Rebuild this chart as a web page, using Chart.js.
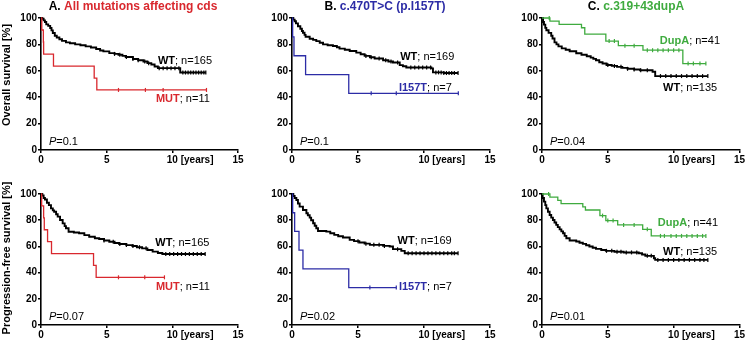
<!DOCTYPE html>
<html>
<head>
<meta charset="utf-8">
<script src="https://cdn.jsdelivr.net/npm/chart.js@4/dist/chart.umd.min.js"></script>
<style>
  body { margin: 0; background: #fff; }
  .panel { position: absolute; }
</style>
</head>
<body>
<div class="panel" style="left:0;top:0;width:250px;height:170px"><canvas id="osA"></canvas></div>
<div class="panel" style="left:250px;top:0;width:250px;height:170px"><canvas id="osB"></canvas></div>
<div class="panel" style="left:500px;top:0;width:246px;height:170px"><canvas id="osC"></canvas></div>
<div class="panel" style="left:0;top:170px;width:250px;height:173px"><canvas id="pfsA"></canvas></div>
<div class="panel" style="left:250px;top:170px;width:250px;height:173px"><canvas id="pfsB"></canvas></div>
<div class="panel" style="left:500px;top:170px;width:246px;height:173px"><canvas id="pfsC"></canvas></div>
<script>
// [years, survival %] - survival drops to the value at that time
const osA_wt = [[0,100],[0.1,99.4],[0.2,98.2],[0.3,97],[0.4,95.2],[0.55,94],[0.7,92.4],[0.8,90.6],[0.9,88.6],[1.05,86.5],[1.2,85.2],[1.4,83.9],[1.6,82.7],[1.9,81.5],[2.2,80.9],[2.6,80],[3.0,79.3],[3.4,78.5],[3.8,77.6],[4.2,76.5],[4.5,75.4],[4.75,74.7],[5.2,73.4],[5.6,72.8],[5.9,72.2],[6.2,71.3],[6.45,70.4],[7.0,68.9],[7.4,68],[7.8,67.1],[8.1,65.8],[8.4,64.8],[8.65,63.3],[8.9,62],[10.6,58.7],[12.55,58.7]];
const osA_mut = [[0,100],[0.06,90.9],[0.18,81.8],[0.2,72.7],[0.95,63.6],[4.05,54.5],[4.25,45.5],[12.6,45.5]];
const osB_wt = [[0,100],[0.1,98.8],[0.2,97.5],[0.3,95.9],[0.45,93.8],[0.63,91.8],[0.75,90.2],[0.83,88.8],[0.95,87.2],[1.03,85.8],[1.34,84.3],[1.6,83.4],[1.84,82.5],[2.1,81.2],[2.35,80],[2.7,79.4],[3.1,78.8],[3.4,77.8],[3.6,76.8],[4.0,75.9],[4.37,75],[4.87,73.8],[5.2,72.5],[5.5,71.3],[5.9,70.3],[6.26,69.3],[6.9,68],[7.3,67.1],[7.65,66.3],[8.16,64.3],[8.4,63.4],[8.66,62.5],[10.56,61.8],[10.68,58.8],[11.5,58.3],[12.58,58.3]];
const osB_i157t = [[0,100],[0.05,85.7],[0.15,71.4],[1.03,57.1],[4.3,42.9],[12.6,42.9]];
const osC_wt = [[0,100],[0.08,97],[0.15,95],[0.25,92.5],[0.33,90.7],[0.5,88.7],[0.7,86.5],[0.8,84.5],[0.95,81.5],[1.1,80],[1.25,78.5],[1.5,77],[1.8,76],[2.1,74.8],[2.6,73.3],[3.0,72.2],[3.4,71],[3.7,70],[3.9,69],[4.1,68],[4.35,66.5],[4.6,65.5],[4.9,64.4],[5.3,63.7],[5.7,63],[6.1,62.2],[6.5,61.5],[7.0,61],[7.45,60.4],[8.4,59.3],[8.6,56],[12.6,56]];
const osC_dupA = [[0,100],[0.6,97.6],[1.3,95.1],[3.0,92.6],[3.25,87.8],[4.85,82.5],[5.8,79],[7.67,75.6],[10.7,65.5],[12.45,65.5]];
const pfsA_wt = [[0,100],[0.1,98.8],[0.2,97],[0.3,95.8],[0.45,93.3],[0.6,91.5],[0.76,89],[0.9,87.5],[1.0,86.5],[1.15,84.5],[1.27,82.7],[1.45,80.2],[1.65,77.6],[1.8,75.5],[1.9,73.8],[2.1,71.2],[2.5,70.6],[2.9,70],[3.3,68.6],[3.67,67.4],[4.1,66.2],[4.43,65.6],[4.8,64.5],[5.2,63.6],[5.6,62.6],[5.95,61.8],[6.5,61],[6.96,60.3],[7.3,59.4],[7.7,58.5],[8.1,57.3],[8.5,56],[8.9,55],[9.24,54.2],[12.5,54.2]];
const pfsA_mut = [[0,100],[0.05,90.9],[0.2,81.8],[0.25,72.7],[0.5,63.6],[0.8,54.5],[4.0,45.5],[4.2,36.4],[9.4,36.4]];
const pfsB_wt = [[0,100],[0.1,98.5],[0.2,97],[0.33,95.4],[0.45,92.8],[0.58,90.4],[0.83,87.8],[1.09,85.3],[1.2,83.8],[1.34,82],[1.45,80],[1.6,77.7],[1.72,75.8],[1.84,73.9],[1.97,71.8],[2.6,71.3],[2.9,70],[3.2,68.8],[3.5,67.8],[3.86,66.8],[4.37,65],[4.7,64],[5.1,63],[5.5,62.1],[5.9,61.2],[6.9,60.4],[7.4,59.9],[7.65,57.9],[8.28,56.6],[8.54,54.8],[12.58,54.8]];
const pfsB_i157t = [[0,100],[0.05,85.7],[0.2,71.4],[0.53,57.1],[0.83,42.9],[4.3,28.6],[7.9,28.6]];
const pfsC_wt = [[0,100],[0.05,97],[0.15,94.2],[0.25,91.5],[0.33,89],[0.45,86.5],[0.58,84],[0.7,82],[0.83,80.2],[0.95,78.3],[1.08,76.4],[1.2,74.7],[1.34,73],[1.47,71.5],[1.6,70],[1.72,68],[1.85,66.2],[2.1,64.5],[2.6,63.7],[2.85,62.8],[3.1,61.9],[3.35,60.9],[3.6,59.9],[3.85,59],[4.1,58.1],[4.5,57.3],[4.85,56.6],[5.5,55.9],[6.2,55.4],[7.35,54.8],[7.6,53.8],[7.85,52.8],[8.5,51],[8.6,49.7],[12.6,49.7]];
const pfsC_dupA = [[0,100],[0.6,97.6],[1.2,95.1],[1.45,92.7],[3.1,90.2],[3.3,87.8],[4.4,83.5],[4.85,79.7],[5.75,76.4],[7.65,73],[8.3,68],[12.45,68]];

// censor times (years)
const osA_wtCens = [5.6,6.0,6.5,7.0,7.4,7.9,8.2,9.0,9.3,9.6,9.9,10.2,10.5,10.8,11.0,11.2,11.4,11.6,11.8,12.0,12.2,12.4,12.55];
const osA_mutCens = [5.9,7.95,9.3,12.6];
const osB_wtCens = [5.6,6.0,6.6,7.1,7.5,8.0,9.0,9.3,9.6,9.9,10.2,10.5,10.9,11.1,11.3,11.5,11.7,11.9,12.1,12.3,12.58];
const osB_i157tCens = [6.0,7.9,12.6];
const osC_wtCens = [5.0,5.5,6.0,6.5,7.0,7.5,8.0,9.0,9.4,9.8,10.2,10.6,11.0,11.4,11.8,12.2,12.6];
const osC_dupACens = [0.55,5.1,5.5,6.3,7.0,8.0,8.4,8.8,9.2,9.6,10.0,10.4,11.1,11.5,12.0,12.45];
const pfsA_wtCens = [4.8,5.5,6.0,6.5,7.0,7.5,8.0,9.5,9.8,10.1,10.4,10.7,11.0,11.3,11.6,11.9,12.2,12.5];
const pfsA_mutCens = [5.9,7.9,9.4];
const pfsB_wtCens = [5.0,5.6,6.2,6.6,7.0,8.0,8.8,9.1,9.4,9.7,10.0,10.3,10.6,10.9,11.2,11.5,11.8,12.1,12.3,12.58];
const pfsB_i157tCens = [5.9,7.9];
const pfsC_wtCens = [4.9,5.3,5.7,6.0,6.4,6.8,7.2,8.0,8.3,8.8,9.2,9.6,10.0,10.4,10.8,11.2,11.6,12.0,12.3,12.6];
const pfsC_dupACens = [0.5,4.6,5.0,5.4,6.2,7.0,8.0,9.0,9.3,9.8,10.2,10.6,11.0,11.4,11.8,12.2,12.45];

const RED = "#d9282e";
const BLUE = "#2c2ca6";
const GREEN = "#3fab3f";
const FONT = '"Liberation Sans", Arial, Helvetica, sans-serif';

function stepAt(curve, t) {
  let s = curve[0][1];
  curve.forEach((p) => {
    if (p[0] <= t) s = p[1];
  });
  return s;
}

function drawParts(ctx, parts, x, y, align) {
  let total = 0;
  parts.forEach((p) => {
    ctx.font = p.font;
    total += ctx.measureText(p.text).width;
  });
  let cx = align == "center" ? x - total / 2 : x;
  parts.forEach((p) => {
    ctx.font = p.font;
    ctx.fillStyle = p.color;
    ctx.fillText(p.text, cx, y);
    cx += ctx.measureText(p.text).width;
  });
}

// titles, curve labels, P values and the [years] unit
Chart.register({
  id: "panelText",
  afterDraw(chart, args, o) {
    const ctx = chart.ctx;
    const xs = chart.scales.x;
    const ys = chart.scales.y;
    ctx.save();
    ctx.textAlign = "left";

    // "[years]" next to the 10 tick, on the same line as the tick labels
    ctx.font = "bold 10px " + FONT;
    ctx.fillStyle = "#000";
    let ty = xs.top + 4;
    ctx.textBaseline = "top";
    const items = xs._labelItems;
    if (items && items[2]) {
      ty = items[2].options.translation[1] + (items[2].textOffset || 0);
      ctx.textBaseline = items[2].options.textBaseline;
    }
    const x10 = xs.getPixelForValue(10) + ctx.measureText("10").width / 2 + ctx.measureText(" ").width;
    ctx.fillText("[years]", x10, ty);

    ctx.textBaseline = "middle";
    if (o.title) {
      drawParts(ctx, o.title, o.titleX, 7, "center");
    }
    o.labels.forEach((l) => {
      drawParts(ctx, l.parts, xs.getPixelForValue(l.x), ys.getPixelForValue(l.y), "left");
    });
    drawParts(ctx, [
      { text: "P", font: "italic 11px " + FONT, color: "#000" },
      { text: "=" + o.p, font: "11px " + FONT, color: "#000" },
    ], xs.getPixelForValue(o.pX), ys.getPixelForValue(o.pY), "left");

    if (o.yTitle) {
      ctx.translate(7, o.yTitleY);
      ctx.rotate(-Math.PI / 2);
      ctx.textAlign = "center";
      ctx.font = "bold 11px " + FONT;
      ctx.fillStyle = "#000";
      ctx.fillText(o.yTitle, 0, 0);
    }
    ctx.restore();
  },
});

function lbl(x, y, name, n, color) {
  return {
    x: x,
    y: y,
    parts: [
      { text: name, font: "bold 11px " + FONT, color: color },
      { text: "; n=" + n, font: "11px " + FONT, color: "#000" },
    ],
  };
}

function curveSet(data, color, width) {
  return {
    data: data.map((p) => ({ x: p[0], y: p[1] })),
    borderColor: color,
    borderWidth: width,
    stepped: true,
    pointRadius: 0,
    fill: false,
    clip: false,
  };
}

function censorSet(times, curve, color) {
  return {
    data: times.map((t) => ({ x: t, y: stepAt(curve, t) })),
    showLine: false,
    pointStyle: "line",
    rotation: 90,
    pointRadius: 2,
    borderColor: color,
    borderWidth: 1.2,
    clip: false,
  };
}

function makePanel(id, p) {
  const tickFont = { family: FONT, size: 10, weight: "bold" };
  new Chart(document.getElementById(id), {
    type: "line",
    data: {
      datasets: [
        curveSet(p.mut, p.color, 1.3),
        curveSet(p.wt, "#000", 1.9),
        censorSet(p.mutCens, p.mut, p.color),
        censorSet(p.wtCens, p.wt, "#000"),
      ],
    },
    options: {
      responsive: true,
      maintainAspectRatio: false,
      animation: false,
      layout: { padding: { top: p.padTop, right: p.padRight, left: 0, bottom: 0 } },
      plugins: {
        legend: { display: false },
        tooltip: { enabled: false },
        panelText: {
          title: p.title,
          titleX: p.titleX,
          yTitle: p.yTitle,
          yTitleY: p.yTitleY,
          labels: p.labels,
          p: p.p,
          pX: 0.6,
          pY: p.pY,
        },
      },
      scales: {
        x: {
          type: "linear",
          min: 0,
          max: 15,
          ticks: { stepSize: 5, color: "#000", font: tickFont, padding: 1, maxRotation: 0 },
          grid: { drawOnChartArea: false, tickLength: 3, color: "#000", lineWidth: 1.5 },
          border: { color: "#000", width: 1.6 },
          afterFit: (s) => { s.height = p.xHeight; },
        },
        y: {
          min: 0,
          max: 100,
          ticks: { stepSize: 20, color: "#000", font: tickFont, padding: 1 },
          grid: { drawOnChartArea: false, tickLength: 3, color: "#000", lineWidth: 1.5 },
          border: { color: "#000", width: 1.6 },
          afterFit: (s) => { s.width = p.yWidth; },
        },
      },
    },
  });
}

const bold12 = "bold 12px " + FONT;

makePanel("osA", {
  wt: osA_wt, mut: osA_mut, wtCens: osA_wtCens, mutCens: osA_mutCens, color: RED,
  padTop: 18, padRight: 12, xHeight: 20, yWidth: 41,
  title: [{ text: "A. ", font: bold12, color: "#000" }, { text: "All mutations affecting cds", font: bold12, color: RED }],
  titleX: 133,
  yTitle: "Overall survival [%]", yTitleY: 75,
  labels: [lbl(8.9, 67.4, "WT", 165, "#000"), lbl(8.75, 38.6, "MUT", 11, RED)],
  p: "0.1", pY: 6.1,
});

makePanel("osB", {
  wt: osB_wt, mut: osB_i157t, wtCens: osB_wtCens, mutCens: osB_i157tCens, color: BLUE,
  padTop: 18, padRight: 10, xHeight: 20, yWidth: 42,
  title: [{ text: "B. ", font: bold12, color: "#000" }, { text: "c.470T>C (p.I157T)", font: bold12, color: BLUE }],
  titleX: 135,
  labels: [lbl(8.2, 70.5, "WT", 169, "#000"), lbl(8.1, 47, "I157T", 7, BLUE)],
  p: "0.1", pY: 6.1,
});

makePanel("osC", {
  wt: osC_wt, mut: osC_dupA, wtCens: osC_wtCens, mutCens: osC_dupACens, color: GREEN,
  padTop: 18, padRight: 6, xHeight: 20, yWidth: 42,
  title: [{ text: "C. ", font: bold12, color: "#000" }, { text: "c.319+43dupA", font: bold12, color: GREEN }],
  titleX: 136,
  labels: [lbl(8.95, 82.6, "DupA", 41, GREEN), lbl(9.2, 47, "WT", 135, "#000")],
  p: "0.04", pY: 6.1,
});

makePanel("pfsA", {
  wt: pfsA_wt, mut: pfsA_mut, wtCens: pfsA_wtCens, mutCens: pfsA_mutCens, color: RED,
  padTop: 24, padRight: 12, xHeight: 18, yWidth: 41,
  yTitle: "Progression-free survival [%]", yTitleY: 88,
  labels: [lbl(8.7, 62.6, "WT", 165, "#000"), lbl(8.75, 29, "MUT", 11, RED)],
  p: "0.07", pY: 6.5,
});

makePanel("pfsB", {
  wt: pfsB_wt, mut: pfsB_i157t, wtCens: pfsB_wtCens, mutCens: pfsB_i157tCens, color: BLUE,
  padTop: 24, padRight: 10, xHeight: 18, yWidth: 42,
  labels: [lbl(8.0, 64, "WT", 169, "#000"), lbl(8.1, 29, "I157T", 7, BLUE)],
  p: "0.02", pY: 6.5,
});

makePanel("pfsC", {
  wt: pfsC_wt, mut: pfsC_dupA, wtCens: pfsC_wtCens, mutCens: pfsC_dupACens, color: GREEN,
  padTop: 24, padRight: 6, xHeight: 18, yWidth: 42,
  labels: [lbl(8.8, 77.9, "DupA", 41, GREEN), lbl(9.2, 55.7, "WT", 135, "#000")],
  p: "0.01", pY: 6.5,
});
</script>
</body>
</html>
